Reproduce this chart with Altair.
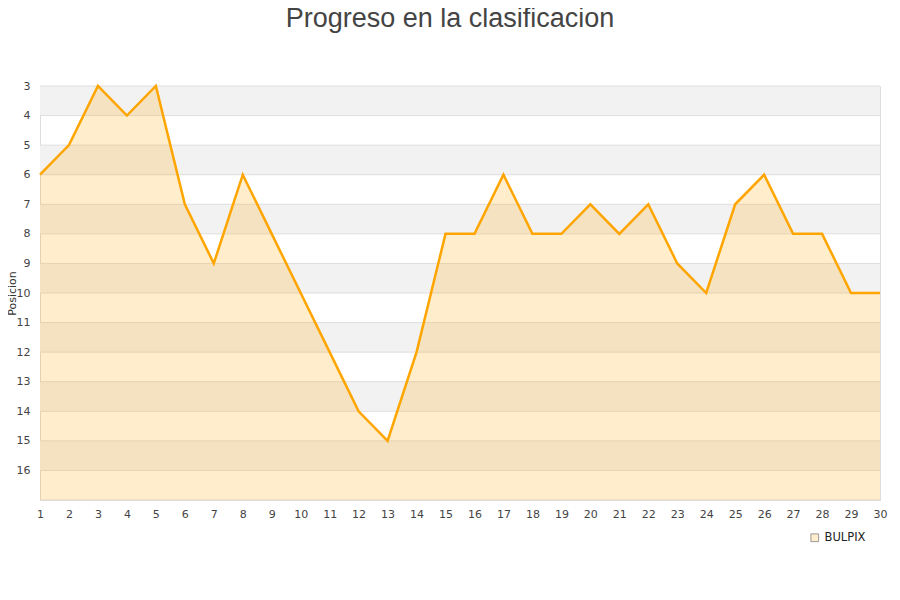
import altair as alt
import pandas as pd

jornadas = list(range(1, 31))
posiciones = [6, 5, 3, 4, 3, 7, 9, 6, 8, 10, 12, 14, 15, 12, 8, 8, 6, 8, 8, 7, 8, 7, 9, 10, 7, 6, 8, 8, 10, 10]
equipo = "BULPIX"
band_starts = [3, 5, 7, 9, 11, 13, 15]
grid_values = list(range(3, 18))
y_ticks = list(range(3, 17))

df = pd.DataFrame({"jornada": jornadas, "pos": posiciones, "equipo": equipo, "base": 17})
bands = pd.DataFrame({"y0": band_starts, "y1": [b + 1 for b in band_starts]})
grid = pd.DataFrame({"g": grid_values})

yscale = alt.Scale(domain=[3, 17], reverse=True, nice=False, zero=False)
xscale = alt.Scale(domain=[1, 30], nice=False, zero=False)

yaxis = alt.Axis(values=y_ticks, title="Posicion", grid=False, ticks=False,
                 domain=False, labelColor="#444", labelFontSize=11,
                 labelPadding=10, labelFont="DejaVu Sans", labelOverlap=False,
                 labelFlush=False,
                 titleFont="DejaVu Sans", titleFontSize=11,
                 titleFontWeight="normal", titleColor="#333",
                 titleX=-23, titleY=207, titleAlign="center",
                 titleBaseline="bottom", titleAngle=270)
xaxis = alt.Axis(values=jornadas, title=None, grid=False, ticks=False,
                 domain=False, labelColor="#444", labelFontSize=11,
                 labelPadding=8, labelFont="DejaVu Sans", labelOverlap=False,
                 labelFlush=False)

band_layer = alt.Chart(bands).mark_rect(color="#f2f2f2").encode(
    y=alt.Y("y0:Q", scale=yscale, axis=yaxis),
    y2="y1:Q",
    x=alt.value(0),
    x2=alt.value(840),
)

grid_layer = alt.Chart(grid).mark_rule(color="#dedede", strokeWidth=1).encode(
    y=alt.Y("g:Q", scale=yscale, axis=yaxis),
)

area = alt.Chart(df).mark_area(opacity=1).encode(
    x=alt.X("jornada:Q", scale=xscale, axis=xaxis),
    y=alt.Y("pos:Q", scale=yscale, axis=yaxis),
    y2="base:Q",
    fill=alt.Fill("equipo:N", scale=alt.Scale(range=["rgba(255,165,0,0.2)"]),
                  legend=alt.Legend(title=None, orient="none", legendX=769, legendY=446,
                                    symbolType="square", symbolSize=60,
                                    symbolStrokeColor="#999", symbolStrokeWidth=1,
                                    labelFont="DejaVu Sans", labelFontSize=11.5,
                                    labelColor="#222")),
)

line = alt.Chart(df).mark_line(color="#FFA500", strokeWidth=2.5).encode(
    x=alt.X("jornada:Q", scale=xscale, axis=xaxis),
    y=alt.Y("pos:Q", scale=yscale, axis=yaxis),
)

chart = alt.layer(band_layer, grid_layer, area, line).properties(
    width=840,
    height=414,
    padding={"left": 32, "top": 78, "right": 12, "bottom": 80},
    autosize=alt.AutoSizeParams(type="none"),
    title=alt.TitleParams("Progreso en la clasificacion", font="Liberation Sans",
                          fontSize=27, fontWeight="normal", color="#444",
                          anchor="middle", offset=47, dx=-10),
).configure_axis(labelOverlap=False).configure_view(stroke="#dddddd")

chart.save("out.html", embed_options={"renderer": "svg", "actions": False})
